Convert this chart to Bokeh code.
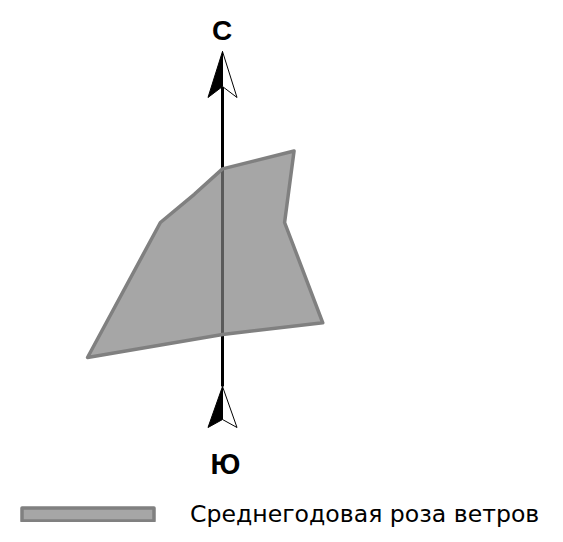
import math
from bokeh.plotting import figure
from bokeh.models import Range1d, Legend, LegendItem
from bokeh.core.properties import value
from bokeh.embed import file_html
from bokeh.resources import INLINE

# ---- data: average annual wind rose (% of time per direction) ----
directions = ["С", "СВ", "В", "ЮВ", "Ю", "ЮЗ", "З", "СЗ"]
angles_deg = [0, 45, 90, 135, 180, 225, 270, 315]
frequency = [7.0, 13.2, 8.1, 18.5, 14.6, 24.9, 8.1, 5.2]
north_label = "С"
south_label = "Ю"
legend_label = "Среднегодовая роза ветров"

# ---- layout ----
W, H = 555, 534
CX, CY = 222, 222          # rose centre in canvas pixels
S = 7.666                  # pixels per percent

p = figure(width=W, height=H, output_backend="svg", toolbar_location=None,
           x_range=Range1d(-CX / S, (W - CX) / S),
           y_range=Range1d(-(H - CY) / S, CY / S),
           min_border=0)
p.axis.visible = False
p.grid.visible = False
p.outline_line_color = None
p.background_fill_color = "white"


def pt(xi, yi):
    """canvas pixel -> data coords"""
    return (xi - CX) / S, (CY - yi) / S


# ---- north-south axis with arrowheads ----
ax_x = 222
x0, y_top = pt(ax_x, 86)
_, y_bot = pt(ax_x, 386)
p.line([x0, x0], [y_top, y_bot], line_color="black", line_width=3)


def arrowhead(tip_y, barb_y, notch_y):
    tx, ty = pt(ax_x, tip_y)
    lx, ly = pt(ax_x - 14.5, barb_y)
    rx, ry = pt(ax_x + 14.5, barb_y)
    nx, ny = pt(ax_x, notch_y)
    p.patch([tx, lx, nx], [ty, ly, ny], fill_color="black", line_color="black", line_width=1)
    p.patch([tx, rx, nx], [ty, ry, ny], fill_color="white", line_color="black", line_width=1)


arrowhead(51, 97, 86)
arrowhead(386, 427, 419)

# ---- wind rose polygon ----
xs = [f * math.sin(math.radians(a)) for f, a in zip(frequency, angles_deg)]
ys = [f * math.cos(math.radians(a)) for f, a in zip(frequency, angles_deg)]
rose = p.patch(xs, ys, fill_color="#808080", fill_alpha=0.7,
               line_color="#808080", line_width=3.5, line_join="round")

# ---- compass labels ----
nx_, ny_ = pt(221.5, 30)
p.text([nx_], [ny_], text=[north_label], text_font=value("Liberation Sans"),
       text_font_style="bold", text_font_size="28px", text_align="center",
       text_baseline="alphabetic", text_color="black")
sx_, sy_ = pt(225, 463)
p.text([sx_], [sy_], text=[south_label], text_font=value("Liberation Sans"),
       text_font_style="bold", text_font_size="29px", text_align="center",
       text_baseline="alphabetic", text_color="black")

# ---- legend ----
legend = Legend(items=[LegendItem(label=legend_label, renderers=[rose])],
                location=(5, 6), orientation="vertical",
                glyph_width=165, glyph_height=16, label_height=16,
                label_standoff=20, padding=0, margin=0, spacing=0,
                border_line_color=None, background_fill_alpha=0,
                label_text_font="DejaVu Sans", label_text_font_size="23.6px",
                label_text_color="black")
p.add_layout(legend)

open("out.html", "w").write(file_html(p, INLINE))
